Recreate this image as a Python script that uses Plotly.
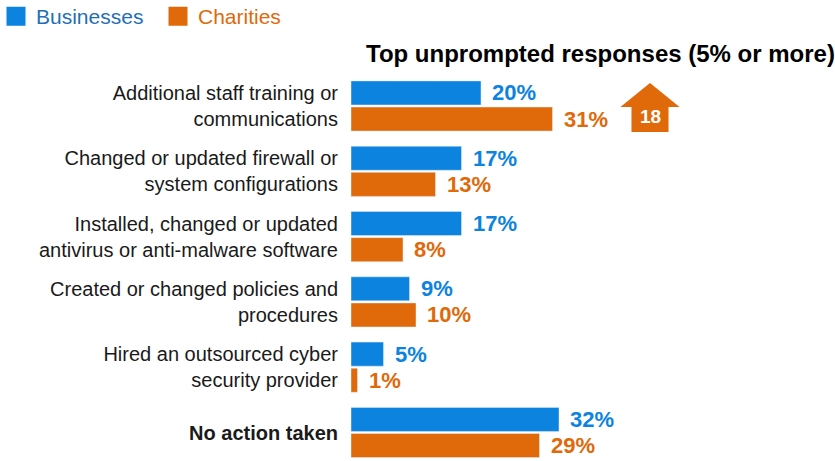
import plotly.graph_objects as go

categories = [
    "Additional staff training or<br>communications",
    "Changed or updated firewall or<br>system configurations",
    "Installed, changed or updated<br>antivirus or anti-malware software",
    "Created or changed policies and<br>procedures",
    "Hired an outsourced cyber<br>security provider",
    "<b>No action taken</b>",
]
businesses = [20, 17, 17, 9, 5, 32]
charities = [31, 13, 8, 10, 1, 29]
series_names = ["Businesses", "Charities"]
change_value = 18  # charities change, first category
title_text = "<b>Top unprompted responses (5% or more)</b>"

BLUE = "#0C83DF"
ORANGE = "#E0690A"
BLUE_TXT = "#1F6FB8"
FONT = "Liberation Sans, Arial, sans-serif"

W, H = 835, 461
L, T = 351, 60
PX_PER_UNIT = 6.5
XMAX = (W - L) / PX_PER_UNIT
PLOT_W, PLOT_H = W - L, H - T
idx = list(range(len(categories)))

fig = go.Figure()
fig.add_trace(go.Bar(y=idx, x=businesses, orientation="h", marker_color=BLUE,
                     showlegend=False, name=series_names[0]))
fig.add_trace(go.Bar(y=idx, x=charities, orientation="h", marker_color=ORANGE,
                     showlegend=False, name=series_names[1]))
# legend entries
fig.add_trace(go.Scatter(x=[None], y=[None], mode="markers",
                         marker=dict(symbol="square", size=16, color=BLUE,
                                     line=dict(width=3, color=BLUE)),
                         name=f'<span style="color:{BLUE_TXT}">{series_names[0]}</span>'))
fig.add_trace(go.Scatter(x=[None], y=[None], mode="markers",
                         marker=dict(symbol="square", size=16, color=ORANGE,
                                     line=dict(width=3, color=ORANGE)),
                         name=f'<span style="color:{ORANGE}">{series_names[1]}</span>'))

annotations = []
for i, (b, c) in enumerate(zip(businesses, charities)):
    annotations.append(dict(x=b, y=i - 0.2, text=f"<b>{b}%</b>", xanchor="left",
                            xshift=9, showarrow=False,
                            font=dict(family=FONT, size=22, color=BLUE)))
    annotations.append(dict(x=c, y=i + 0.2, text=f"<b>{c}%</b>", xanchor="left",
                            xshift=9, showarrow=False,
                            font=dict(family=FONT, size=22, color=ORANGE)))

# arrow decoration next to first category
ax0 = charities[0] + 15.0
hw, sw = 4.55, 2.85
arrow_path = (f"M {ax0 - sw},0.40 L {ax0 - sw},0.015 L {ax0 - hw},0.015 "
              f"L {ax0},-0.352 L {ax0 + hw},0.015 L {ax0 + sw},0.015 L {ax0 + sw},0.40 Z")
fig.add_shape(type="path", path=arrow_path, xref="x", yref="y",
              fillcolor=ORANGE, line=dict(width=0))
annotations.append(dict(x=ax0, y=0.16, text=f"<b>{change_value}</b>", showarrow=False,
                        font=dict(family=FONT, size=19, color="white")))

annotations.append(dict(x=1, y=1, xref="paper", yref="paper", xanchor="right",
                        yanchor="bottom", xshift=2, yshift=-9, text=title_text, showarrow=False,
                        font=dict(family=FONT, size=24, color="black")))

y_top = -(106 - T) / 65.3
y_bot = 5 + (H - 432.5) / 65.3

fig.update_layout(
    width=W, height=H,
    margin=dict(l=L, r=0, t=T, b=0, autoexpand=False),
    paper_bgcolor="white", plot_bgcolor="white",
    barmode="group", bargap=0.2, bargroupgap=0.08,
    font=dict(family=FONT, size=20, color="#1a1a1a"),
    showlegend=True,
    legend=dict(orientation="h", xref="paper", yref="paper",
                x=(-L - 4) / PLOT_W, y=1 + (T + 4) / PLOT_H,
                xanchor="left", yanchor="top",
                font=dict(family=FONT, size=21), itemwidth=30,
                entrywidth=117, entrywidthmode="pixels",
                bgcolor="rgba(0,0,0,0)"),
    annotations=annotations,
    xaxis=dict(range=[0, XMAX], visible=False, fixedrange=True),
    yaxis=dict(range=[y_bot, y_top], tickvals=idx, ticktext=categories,
               showgrid=False, zeroline=False, showline=False, ticks="",
               ticklabelstandoff=12, fixedrange=True,
               tickfont=dict(family=FONT, size=20, color="#1a1a1a")),
)

fig.write_html("out.html", config={"displayModeBar": False},
               post_script="document.body.style.margin='0';")
